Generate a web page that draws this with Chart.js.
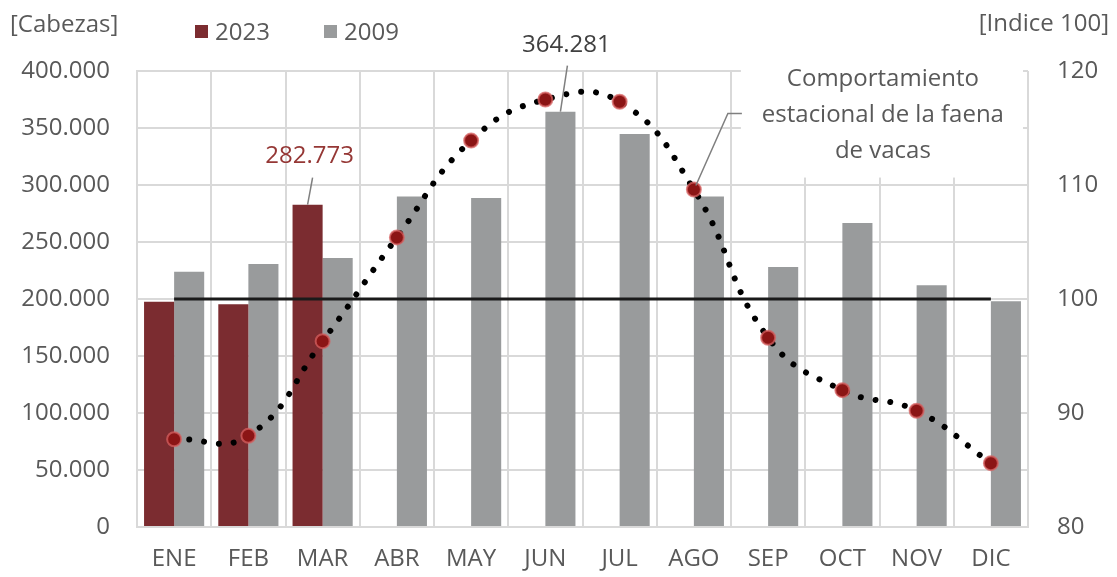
<!DOCTYPE html>
<html>
<head>
<meta charset="utf-8">
<script src="https://cdn.jsdelivr.net/npm/chart.js@4.4.1/dist/chart.umd.min.js"></script>
<style>
  html, body { margin: 0; padding: 0; background: #fff; }
  canvas { display: block; }
</style>
</head>
<body>
<canvas id="faena" width="1117" height="577"></canvas>
<script>
// Faena de vacas: cabezas por mes y comportamiento estacional
const meses = ['ENE', 'FEB', 'MAR', 'ABR', 'MAY', 'JUN', 'JUL', 'AGO', 'SEP', 'OCT', 'NOV', 'DIC'];
const faena2023 = [197600, 195300, 282773, null, null, null, null, null, null, null, null, null];
const faena2009 = [224000, 230700, 236000, 290000, 288600, 364281, 344700, 290000, 228000, 266700, 212000, 198000];
const indiceEstacional = [87.7, 88.0, 96.3, 105.4, 113.9, 117.5, 117.3, 109.6, 96.6, 92.0, 90.2, 85.6];
const base100 = [100, 100, 100, 100, 100, 100, 100, 100, 100, 100, 100, 100];
const ticksCabezas = [0, 50000, 100000, 150000, 200000, 250000, 300000, 350000, 400000];

const FONT = '"Open Sans", sans-serif';
const GRIS_TXT = '#595959';
const GRILLA = '#d9d9d9';

const fmtMiles = (v) => String(v).replace(/\B(?=(\d{3})+(?!\d))/g, '.');

// caja blanca detras del texto de la curva estacional
const cajaTexto = {
    id: 'cajaTexto',
    beforeDatasetsDraw(chart) {
        const ctx = chart.ctx;
        const p = chart.getDatasetMeta(3).data[7];
        const area = chart.chartArea;
        ctx.save();
        ctx.fillStyle = '#fff';
        ctx.fillRect(p.x + 47, area.top - 3, area.right - 5 - (p.x + 47), p.y - 12 - (area.top - 3));
        ctx.restore();
    }
};

const etiquetas = {
    id: 'etiquetas',
    afterDatasetsDraw(chart) {
        const ctx = chart.ctx;
        ctx.save();
        ctx.font = '24px ' + FONT;
        ctx.textAlign = 'center';
        ctx.textBaseline = 'middle';
        ctx.strokeStyle = '#7f7f7f';
        ctx.lineWidth = 1.5;

        // MAR 2023
        let b = chart.getDatasetMeta(0).data[2];
        ctx.fillStyle = '#953735';
        ctx.fillText(fmtMiles(faena2023[2]), b.x + 2, b.y - 48);
        ctx.beginPath();
        ctx.moveTo(b.x + 5, b.y - 27);
        ctx.lineTo(b.x, b.y);
        ctx.stroke();

        // JUN 2009
        b = chart.getDatasetMeta(1).data[5];
        ctx.fillStyle = '#404040';
        ctx.fillText(fmtMiles(faena2009[5]), b.x + 6, b.y - 67);
        ctx.beginPath();
        ctx.moveTo(b.x + 7, b.y - 46);
        ctx.lineTo(b.x, b.y);
        ctx.stroke();

        // texto de la curva
        const p = chart.getDatasetMeta(3).data[7];
        ctx.fillStyle = GRIS_TXT;
        ctx.fillText('Comportamiento', p.x + 189, p.y - 110);
        ctx.fillText('estacional de la faena', p.x + 189, p.y - 74);
        ctx.fillText('de vacas', p.x + 189, p.y - 38);
        ctx.beginPath();
        ctx.moveTo(p.x + 48, p.y - 76);
        ctx.lineTo(p.x + 34, p.y - 76);
        ctx.lineTo(p.x + 2, p.y - 4);
        ctx.stroke();
        ctx.restore();
    },
    afterDraw(chart) {
        const ctx = chart.ctx;
        ctx.save();
        ctx.font = '24px ' + FONT;
        ctx.fillStyle = GRIS_TXT;
        ctx.textBaseline = 'alphabetic';
        ctx.textAlign = 'left';
        ctx.fillText('[Cabezas]', 10, 32);
        ctx.textAlign = 'right';
        ctx.fillText('[Indice 100]', 1109, 31);

        // leyenda
        ctx.textAlign = 'left';
        const ds = chart.data.datasets;
        [[0, 195], [1, 324]].forEach(([i, x]) => {
            ctx.fillStyle = ds[i].backgroundColor;
            ctx.fillRect(x, 25, 13, 13);
            ctx.fillStyle = GRIS_TXT;
            ctx.fillText(ds[i].label, x + 20, 40);
        });
        ctx.restore();
    }
};

const chart = new Chart(document.getElementById('faena').getContext('2d'), {
    data: {
        labels: meses,
        datasets: [
            {
                type: 'bar',
                label: '2023',
                data: faena2023,
                backgroundColor: '#7b2c30',
                categoryPercentage: 0.81,
                barPercentage: 1.0,
                yAxisID: 'y',
                order: 2
            },
            {
                type: 'bar',
                label: '2009',
                data: faena2009,
                backgroundColor: '#999b9c',
                categoryPercentage: 0.81,
                barPercentage: 1.0,
                yAxisID: 'y',
                order: 3
            },
            {
                type: 'line',
                label: 'Base 100',
                data: base100,
                borderColor: '#1a1a1a',
                borderWidth: 3,
                pointRadius: 0,
                yAxisID: 'y1',
                order: 1
            },
            {
                type: 'line',
                label: 'Comportamiento estacional',
                data: indiceEstacional,
                borderColor: '#000',
                borderWidth: 6,
                borderDash: [0.01, 15],
                borderCapStyle: 'round',
                tension: 0.45,
                pointRadius: 7,
                pointBackgroundColor: '#8b1515',
                pointBorderColor: 'rgba(214,96,96,0.75)',
                pointBorderWidth: 2,
                yAxisID: 'y1',
                order: 0
            }
        ]
    },
    options: {
        responsive: false,
        animation: false,
        devicePixelRatio: 1,
        layout: { padding: { top: 71, left: 0, right: 0, bottom: 0 } },
        plugins: {
            legend: { display: false },
            tooltip: { enabled: false }
        },
        scales: {
            x: {
                grid: { offset: true, color: GRILLA, lineWidth: 2, drawTicks: false },
                border: { color: GRILLA, width: 2 },
                ticks: { color: GRIS_TXT, font: { family: FONT, size: 24 }, padding: 18 },
                afterFit: (s) => { s.height = 50; }
            },
            y: {
                position: 'left',
                min: 0,
                max: 400000,
                grid: { color: GRILLA, lineWidth: 2, drawTicks: false },
                border: { color: GRILLA, width: 2 },
                afterBuildTicks: (s) => { s.ticks = ticksCabezas.map(v => ({ value: v })); },
                ticks: {
                    color: GRIS_TXT,
                    font: { family: FONT, size: 24 },
                    padding: 27,
                    callback: (v) => fmtMiles(v)
                },
                afterFit: (s) => { s.width = 137; }
            },
            y1: {
                position: 'right',
                min: 80,
                max: 120,
                grid: { drawOnChartArea: false, drawTicks: false },
                border: { display: false },
                ticks: {
                    stepSize: 10,
                    color: GRIS_TXT,
                    font: { family: FONT, size: 24 },
                    padding: 29
                },
                afterFit: (s) => { s.width = 89; }
            }
        }
    },
    plugins: [cajaTexto, etiquetas]
});
</script>
</body>
</html>
